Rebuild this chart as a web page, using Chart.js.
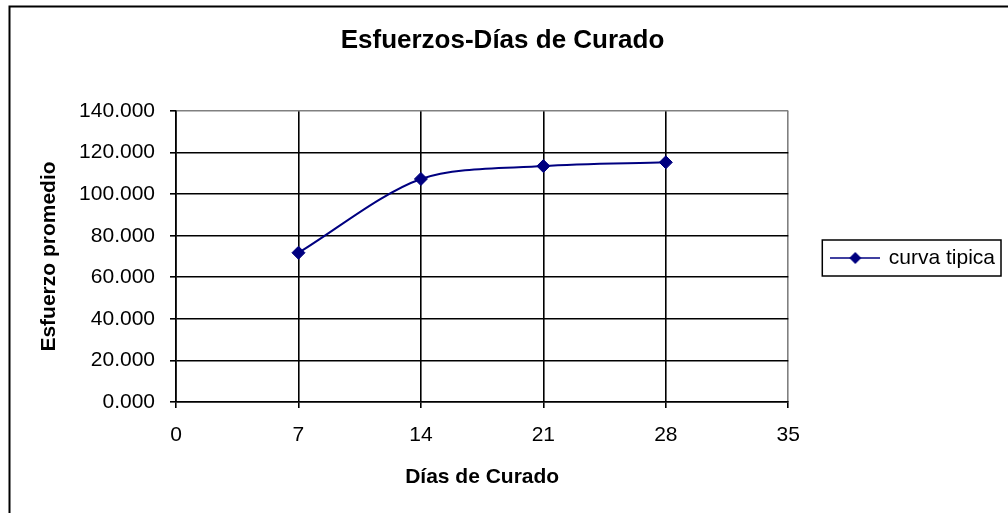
<!DOCTYPE html>
<html>
<head>
<meta charset="utf-8">
<script src="https://cdn.jsdelivr.net/npm/chart.js@4/dist/chart.umd.min.js"></script>
<style>
  html, body { margin: 0; padding: 0; background: #fff; }
  #wrap { width: 1008px; height: 513px; }
</style>
</head>
<body>
<div id="wrap"><canvas id="grafico" width="1008" height="513"></canvas></div>
<script>
const dias = [7, 14, 21, 28];
const esfuerzo = [71.8, 107.3, 113.5, 115.3];
const serie = 'curva tipica';
const ejeX = { min: 0, max: 35, paso: 7 };
const ejeY = { min: 0, max: 140, paso: 20 };

const azul = '#000080';

// icono de la leyenda: linea con rombo
const icono = document.createElement('canvas');
icono.width = 50;
icono.height = 14;
(function () {
  const c = icono.getContext('2d');
  c.strokeStyle = azul;
  c.lineWidth = 1.5;
  c.beginPath();
  c.moveTo(0, 7);
  c.lineTo(50, 7);
  c.stroke();
  c.fillStyle = azul;
  c.beginPath();
  c.moveTo(19, 7);
  c.lineTo(25, 1);
  c.lineTo(31, 7);
  c.lineTo(25, 13);
  c.closePath();
  c.fill();
})();

const marcos = {
  id: 'marcos',
  beforeDraw(chart) {
    const c = chart.ctx;
    c.save();
    c.fillStyle = '#fff';
    c.fillRect(0, 0, chart.width, chart.height);
    c.strokeStyle = '#000';
    c.lineWidth = 2;
    c.strokeRect(9.5, 6.5, chart.width + 10, chart.height + 10);
    c.restore();
  },
  afterDraw(chart) {
    const hb = chart.legend.legendHitBoxes[0];
    if (!hb) return;
    const c = chart.ctx;
    const cy = hb.top + hb.height / 2;
    c.save();
    c.strokeStyle = '#000';
    c.lineWidth = 1.5;
    c.strokeRect(hb.left - 10, cy - 18, hb.width + 16, 36);
    c.restore();
  }
};

Chart.defaults.font.family = '"Liberation Sans", Arial, sans-serif';
Chart.defaults.font.size = 21;
Chart.defaults.color = '#000';

new Chart(document.getElementById('grafico'), {
  type: 'scatter',
  data: {
    datasets: [{
      label: serie,
      data: dias.map((d, i) => ({ x: d, y: esfuerzo[i] })),
      showLine: true,
      borderColor: azul,
      backgroundColor: azul,
      borderWidth: 2,
      tension: 0.3,
      pointStyle: 'rectRot',
      pointRadius: 6.5,
      pointBorderWidth: 1,
      pointBorderColor: azul,
      pointBackgroundColor: azul
    }]
  },
  options: {
    responsive: false,
    animation: false,
    layout: {
      padding: { left: 0, right: 3, top: 3, bottom: 0 }
    },
    scales: {
      x: {
        type: 'linear',
        min: ejeX.min,
        max: ejeX.max,
        afterFit(s) { s.height = 111; },
        ticks: { stepSize: ejeX.paso, padding: 15, font: { size: 21 } },
        grid: {
          color: (ctx) => ctx.tick && ctx.tick.value === ejeX.max ? '#808080' : '#000',
          lineWidth: 1.6,
          tickLength: 6,
          tickColor: '#000'
        },
        border: { color: '#000', width: 1.6 },
        title: {
          display: true,
          text: 'Días de Curado',
          font: { size: 21, weight: 'bold' },
          padding: { top: 0, bottom: 22.7 }
        }
      },
      y: {
        min: ejeY.min,
        max: ejeY.max,
        afterFit(s) { s.width = 176; },
        ticks: {
          stepSize: ejeY.paso,
          padding: 15,
          font: { size: 21 },
          callback: (v) => v.toFixed(3)
        },
        grid: {
          color: (ctx) => ctx.tick && ctx.tick.value === ejeY.max ? '#808080' : '#000',
          lineWidth: 1.6,
          tickLength: 6,
          tickColor: '#000'
        },
        border: { color: '#000', width: 1.6 },
        title: {
          display: true,
          text: 'Esfuerzo promedio',
          font: { size: 21, weight: 'bold' },
          padding: { top: 36.8, bottom: 0 }
        }
      }
    },
    plugins: {
      title: {
        display: true,
        text: 'Esfuerzos-Días de Curado',
        font: { size: 26, weight: 'bold' },
        color: '#000',
        padding: { top: 22.4, bottom: 54.4 }
      },
      legend: {
        position: 'right',
        labels: {
          usePointStyle: true,
          pointStyle: icono,
          pointStyleWidth: 46,
          padding: 44,
          font: { size: 21 },
          color: '#000'
        }
      },
      tooltip: { enabled: false }
    }
  },
  plugins: [marcos]
});
</script>
</body>
</html>
